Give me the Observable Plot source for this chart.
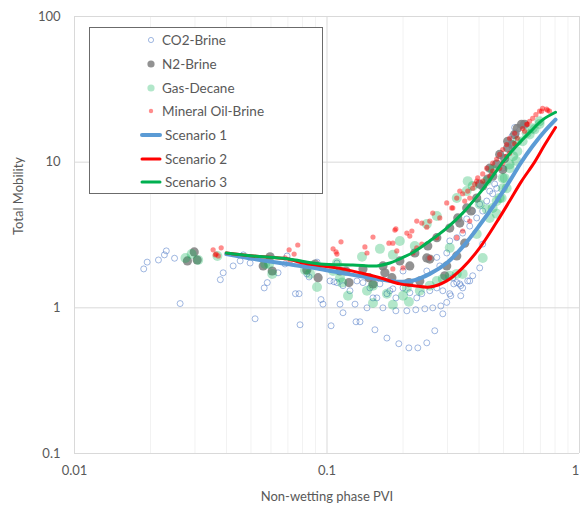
<!DOCTYPE html>
<html>
<head>
<meta charset="utf-8">
<script src="https://cdn.jsdelivr.net/npm/d3@7"></script>
<script src="https://cdn.jsdelivr.net/npm/@observablehq/plot@0.6"></script>
<style>
  body { margin: 0; background: #fff; }
  #chart { position: relative; width: 580px; height: 513px; font-family: Lato, "Open Sans", sans-serif; }
  #legend { position: absolute; left: 89px; top: 27px; width: 234px; height: 167px; box-sizing: border-box;
            border: 1px solid #6b6b6b; background: #fff; }
</style>
</head>
<body>
<div id="chart"><div id="legend"></div></div>
<script>
// Measured points: [non-wetting phase PVI, total mobility]
const co2Brine = [
  [0.0188,1.85],[0.0194,2.06],[0.0215,2.13],[0.0227,2.31],[0.0231,2.46],[0.0249,2.19],[0.0262,1.07],
  [0.0378,1.56],[0.0388,1.74],[0.0425,1.94],[0.0453,2.10],[0.0466,2.31],[0.0496,2.03],[0.0519,0.841],
  [0.0564,1.37],[0.0580,1.49],[0.0640,1.74],[0.0682,2.00],[0.0695,2.27],[0.0750,1.25],[0.0775,1.25],
  [0.0782,0.765],[0.0832,1.71],[0.0849,1.63],[0.0913,2.06],[0.0947,1.14],[0.0964,1.06],[0.1038,0.753],
  [0.1066,1.51],[0.1095,2.03],[0.1126,1.06],[0.1157,0.925],[0.1233,1.31],[0.1314,1.53],[0.1291,1.06],
  [0.1303,0.802],[0.1351,0.802],[0.1388,1.49],[0.1440,1.00],[0.1521,1.17],[0.1548,0.707],[0.1620,1.46],
  [0.1665,1.00],[0.1727,1.25],[0.1727,0.62],[0.1823,1.35],[0.1874,0.954],[0.1925,0.567],[0.2000,1.37],
  [0.2071,0.954],[0.2110,0.531],[0.2128,1.27],[0.2247,0.97],[0.2267,1.17],[0.2289,0.531],[0.2374,1.25],
  [0.2440,0.985],[0.2484,0.575],[0.2553,1.31],[0.2623,1.00],[0.2672,0.696],[0.2722,1.37],[0.2823,1.03],
  [0.2875,0.91],[0.2875,1.31],[0.2980,1.09],[0.3063,1.25],[0.3092,1.21],[0.3177,1.46],[0.3265,1.49],
  [0.3386,1.21],[0.3386,1.42],[0.3446,1.37],[0.3608,1.53],[0.3675,1.53],[0.3777,1.66],[0.4025,1.88],
  [0.3149,1.61],[0.3355,1.46],[0.2980,2.38],[0.2722,2.22],[0.2797,1.94],[0.2484,1.79],[0.2000,1.79],
  [0.3063,2.88],[0.3265,3.03],[0.3446,3.26],[0.3675,3.64],[0.3916,4.14],[0.4137,2.74],[0.4137,4.62],
  [0.4291,5.41],[0.4409,6.33],[0.4532,6.07],[0.4700,6.62],[0.4966,9.1],[0.5407,12.5],[0.5407,15.1],
  [0.5535,17.3],[0.5626,15.8],[0.5458,14.4],[0.3575,4.08],[0.3777,4.62],[0.4025,5.15],[0.4613,7.08],
  [0.1028,1.53],[0.1095,1.49],[0.1157,1.42],[0.1479,1.37],[0.1576,1.17],[0.1774,1.31],[0.1874,1.17]
];
const n2Brine = [
  [0.0280,2.10],[0.0298,2.42],[0.0306,2.13],[0.0559,1.94],[0.0595,2.24],[0.0607,1.79],[0.0832,1.82],
  [0.0897,2.00],[0.0922,1.61],[0.1126,1.79],[0.1189,1.79],[0.1222,1.49],[0.1388,1.85],[0.1466,1.61],
  [0.1521,1.46],[0.1665,1.94],[0.1695,1.74],[0.1807,1.61],[0.1943,2.10],[0.2109,1.49],[0.2128,1.94],
  [0.2227,2.38],[0.2331,1.53],[0.2484,2.20],[0.2507,2.66],[0.2722,3.03],[0.2927,1.66],[0.2980,1.94],
  [0.3063,3.53],[0.3265,2.27],[0.3295,4.14],[0.3511,2.78],[0.3575,4.85],[0.3720,4.62],[0.3916,5.67],
  [0.4025,7.06],[0.4137,6.85],[0.4330,7.66],[0.4409,9.1],[0.4532,8.02],[0.4700,9.7],[0.4829,11.3],
  [0.4966,8.9],[0.5053,10.6],[0.5195,13.9],[0.5195,12.5],[0.5407,13.2],[0.5535,15.5],[0.5673,17.1],
  [0.5897,18.2],[0.6062,18.2],[0.2553,2.16],[0.3355,3.82]
];
const gasDecane = [
  [0.0275,2.20],[0.0291,2.34],[0.0309,2.13],[0.0368,2.27],[0.0569,2.00],[0.0590,2.00],[0.0607,1.71],
  [0.0818,1.82],[0.0857,1.71],[0.0913,1.39],[0.1057,1.79],[0.1095,2.03],[0.1126,1.61],[0.1147,1.49],
  [0.1211,1.21],[0.1376,2.24],[0.1440,1.31],[0.1521,1.42],[0.1521,1.08],[0.1620,2.54],[0.1727,1.25],
  [0.1823,2.31],[0.1823,1.05],[0.1943,2.88],[0.2000,1.21],[0.2071,1.37],[0.2110,1.10],[0.2227,2.66],
  [0.2331,1.31],[0.2484,3.76],[0.2553,1.42],[0.2722,4.27],[0.2722,1.53],[0.2875,1.58],[0.3063,2.58],
  [0.3063,1.66],[0.3265,5.67],[0.3265,1.71],[0.3446,1.71],[0.3575,6.33],[0.3608,7.41],[0.3777,6.85],
  [0.3916,3.21],[0.4025,5.15],[0.4137,2.20],[0.4291,7.41],[0.4291,4.75],[0.4409,4.14],[0.4532,4.85],
  [0.4532,8.9],[0.4700,5.41],[0.4700,4.43],[0.4829,5.67],[0.4916,5.67],[0.4966,6.62],[0.4966,7.77],
  [0.5053,7.77],[0.5146,6.62],[0.5288,9.65],[0.5288,9.1],[0.5458,11.0],[0.5626,10.2],[0.5673,11.9],
  [0.5673,13.9],[0.5953,13.9],[0.6174,15.8],[0.6344,15.5],[0.6524,17.1],[0.6639,16.8],[0.6948,19.1],
  [0.6948,18.3]
];
const mineralOilBrine = [
  [0.0354,2.50],[0.0364,2.34],[0.0371,2.27],[0.0381,2.58],[0.0361,2.31],[0.0682,2.20],[0.0714,2.06],
  [0.0708,2.50],[0.0741,2.34],[0.0766,2.70],[0.1057,2.54],[0.1086,2.42],[0.1095,2.34],[0.1136,2.84],
  [0.1413,2.62],[0.1440,2.38],[0.1521,3.06],[0.1759,2.78],[0.1823,2.78],[0.1857,3.42],[0.1874,3.48],
  [0.1890,2.46],[0.2000,1.88],[0.1823,1.85],[0.2071,3.26],[0.2128,3.11],[0.2168,3.37],[0.2187,2.38],
  [0.2267,3.94],[0.2267,2.58],[0.2374,3.82],[0.2484,3.58],[0.2553,3.94],[0.2553,2.20],[0.2623,4.47],
  [0.2722,3.03],[0.2797,4.14],[0.2980,5.25],[0.3120,4.85],[0.3149,4.85],[0.3265,5.67],[0.3355,6.33],
  [0.3446,6.07],[0.3511,5.41],[0.3608,6.33],[0.3675,3.94],[0.3675,5.67],[0.3777,6.62],[0.3846,7.06],
  [0.3916,7.41],[0.3952,7.8],[0.4137,8.3],[0.4137,7.41],[0.4291,9.1],[0.4409,8.02],[0.4532,9.86],
  [0.4532,8.68],[0.4700,10.5],[0.4829,11.3],[0.4829,9.1],[0.4966,12.2],[0.4966,9.86],[0.5146,13.2],
  [0.5146,11.0],[0.5288,14.6],[0.5288,11.5],[0.5535,15.8],[0.5535,13.4],[0.5673,14.6],[0.5953,17.0],
  [0.6062,16.3],[0.6174,18.2],[0.6231,18.2],[0.6344,19.1],[0.6524,20.0],[0.6717,21.2],[0.6948,22.4],
  [0.7081,22.4],[0.7143,23.4],[0.7406,23.1],[0.7483,22.7],[0.7610,22.4],[0.3446,3.37],[0.3265,3.03],
  [0.2374,2.74]
];

// Model curves
const scenario1 = [
  [0.0399,2.34],[0.0510,2.17],[0.0695,2.00],[0.0938,1.85],[0.1200,1.71],[0.1479,1.61],[0.1774,1.53],
  [0.2000,1.51],[0.2227,1.55],[0.2553,1.71],[0.2980,2.03],[0.3446,2.62],[0.4025,3.70],[0.4700,5.41],
  [0.5288,7.41],[0.5849,9.86],[0.6524,12.9],[0.7272,16.3],[0.8035,19.6]
];
const scenario2 = [
  [0.0399,2.38],[0.0510,2.27],[0.0695,2.17],[0.0804,2.03],[0.1095,1.88],[0.1351,1.74],[0.1620,1.61],
  [0.1943,1.46],[0.2207,1.42],[0.2553,1.39],[0.2980,1.53],[0.3446,1.88],[0.4025,2.58],[0.4700,3.88],
  [0.5288,5.41],[0.5897,7.41],[0.6639,10.0],[0.7272,13.1],[0.8035,17.3]
];
const scenario3 = [
  [0.0399,2.38],[0.0510,2.27],[0.0695,2.17],[0.0938,2.00],[0.1266,1.97],[0.1576,1.94],[0.1774,2.03],
  [0.1943,2.17],[0.2207,2.42],[0.2553,2.88],[0.2980,3.53],[0.3446,4.47],[0.4025,6.13],[0.4532,8.02],
  [0.4966,10.0],[0.5626,12.9],[0.6344,16.0],[0.7143,19.5],[0.8035,22.0]
];

// Axis ticks and grid positions
const xTicks = [0.01, 0.1, 1];
const yTicks = [0.1, 1, 10, 100];
const xMinorGrid = [0.02,0.03,0.04,0.05,0.06,0.07,0.08,0.09,0.2,0.3,0.4,0.5,0.6,0.7,0.8,0.9];

const seriesStyles = [
  {label: "CO2-Brine", type: "dot", r: 2.6, fill: "none", stroke: "#4472c4", strokeOpacity: 0.5},
  {label: "N2-Brine", type: "dot", r: 3.6, fill: "#7f7f7f", fillOpacity: 0.85},
  {label: "Gas-Decane", type: "dot", r: 3.6, fill: "#00b050", fillOpacity: 0.3},
  {label: "Mineral Oil-Brine", type: "dot", r: 2.2, fill: "#ff0000", fillOpacity: 0.45},
  {label: "Scenario 1", type: "line", stroke: "#5b9bd5", strokeWidth: 4},
  {label: "Scenario 2", type: "line", stroke: "#ff0000", strokeWidth: 3},
  {label: "Scenario 3", type: "line", stroke: "#00b050", strokeWidth: 3}
];

const px = d => d[0], mob = d => d[1];
const textColor = "#595959";

const chart = Plot.plot({
  width: 580,
  height: 513,
  marginLeft: 74,
  marginRight: 1,
  marginTop: 16,
  marginBottom: 60,
  style: {fontFamily: "Lato, 'Open Sans', sans-serif", fontSize: "13px", color: textColor, background: "#fff"},
  x: {type: "log", domain: [0.01, 1]},
  y: {type: "log", domain: [0.1, 100]},
  marks: [
    Plot.ruleX(xMinorGrid, {stroke: "#f2f2f2", strokeWidth: 1}),
    Plot.ruleX(xTicks, {stroke: "#d9d9d9", strokeWidth: 1}),
    Plot.ruleY(yTicks, {stroke: "#d9d9d9", strokeWidth: 1}),
    // the last tick label sits on the right edge, so it is nudged inward
    Plot.axisX(xTicks.slice(0, -1), {tickSize: 0, tickPadding: 12, tickFormat: d => String(d), label: null, fill: textColor, fontSize: 13}),
    Plot.axisX(xTicks.slice(-1), {tickSize: 0, tickPadding: 12, tickFormat: d => String(d), label: null, fill: textColor, fontSize: 13, dx: -4}),
    Plot.axisY(yTicks, {tickSize: 0, tickPadding: 14, tickFormat: d => String(d), label: null, fill: textColor, fontSize: 13}),
    Plot.text(["Non-wetting phase PVI"], {frameAnchor: "bottom", dy: 47, fill: textColor, fontSize: 13}),
    Plot.text(["Total Mobility"], {frameAnchor: "left", dx: -56, rotate: -90, fill: textColor, fontSize: 13}),
    Plot.dot(co2Brine, {x: px, y: mob, r: 3, fill: "none", stroke: "#4472c4", strokeOpacity: 0.5, strokeWidth: 1}),
    Plot.dot(n2Brine, {x: px, y: mob, r: 4.6, fill: "#7f7f7f", fillOpacity: 0.85}),
    Plot.dot(gasDecane, {x: px, y: mob, r: 5, fill: "#00b050", fillOpacity: 0.3}),
    Plot.dot(mineralOilBrine, {x: px, y: mob, r: 2.6, fill: "#ff0000", fillOpacity: 0.45}),
    Plot.line(scenario1, {x: px, y: mob, stroke: "#5b9bd5", strokeWidth: 4, curve: "catmull-rom"}),
    Plot.line(scenario2, {x: px, y: mob, stroke: "#ff0000", strokeWidth: 3, curve: "catmull-rom"}),
    Plot.line(scenario3, {x: px, y: mob, stroke: "#00b050", strokeWidth: 3, curve: "catmull-rom"})
  ]
});

const host = document.getElementById("chart");
host.insertBefore(chart, host.firstChild);

// Legend box inside the plotting area
const legendSvg = d3.select("#legend").append("svg")
  .attr("width", 232).attr("height", 165)
  .style("display", "block");
const rowY = [12, 36, 60, 83, 107, 131, 154];
seriesStyles.forEach((s, i) => {
  const g = legendSvg.append("g").attr("transform", `translate(0,${rowY[i]})`);
  if (s.type === "dot") {
    g.append("circle").attr("cx", 61).attr("cy", 0).attr("r", s.r)
      .attr("fill", s.fill).attr("fill-opacity", s.fillOpacity ?? 1)
      .attr("stroke", s.stroke ?? "none").attr("stroke-opacity", s.strokeOpacity ?? 1);
    g.append("text").attr("x", 72).attr("y", 0).attr("dy", "0.35em")
      .attr("fill", textColor).style("font-size", "13.5px")
      .style("font-family", "Lato, 'Open Sans', sans-serif").text(s.label);
  } else {
    g.append("line").attr("x1", 52).attr("x2", 70).attr("y1", 0).attr("y2", 0)
      .attr("stroke", s.stroke).attr("stroke-width", s.strokeWidth).attr("stroke-linecap", "round");
    g.append("text").attr("x", 75).attr("y", 0).attr("dy", "0.35em")
      .attr("fill", textColor).style("font-size", "13.5px")
      .style("font-family", "Lato, 'Open Sans', sans-serif").text(s.label);
  }
});
</script>
</body>
</html>
